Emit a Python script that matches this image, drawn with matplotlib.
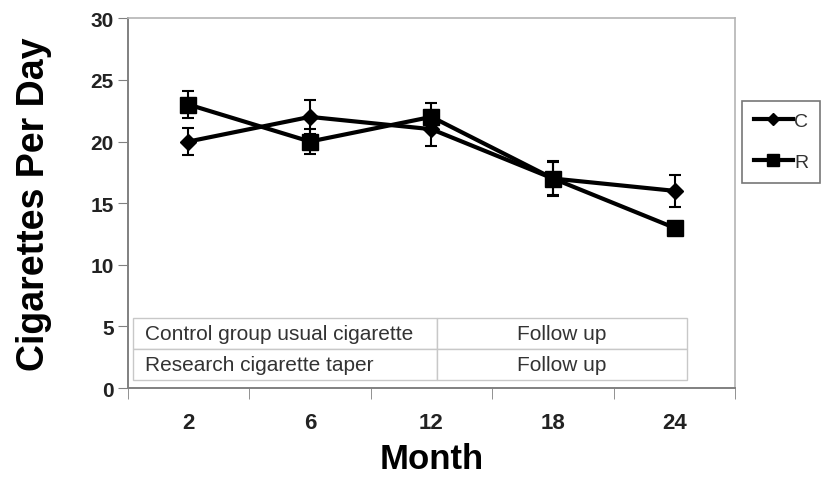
import matplotlib
matplotlib.use("Agg")
from matplotlib import pyplot as plt
from matplotlib.lines import Line2D
import numpy as np

plt.rcParams['font.family'] = ['Liberation Sans', 'DejaVu Sans']

# data
months = ["2", "6", "12", "18", "24"]
c_vals = [20, 22, 21, 17, 16]
c_err = [1.1, 1.4, 1.4, 1.4, 1.3]
r_vals = [23, 20, 22, 17, 13]
r_err = [1.1, 1.0, 1.1, 1.3, 0.0]
table_rows = [["Control group usual cigarette", "Follow up"],
              ["Research cigarette taper", "Follow up"]]

fig = plt.figure(figsize=(8.29, 4.81), dpi=100)
ax = fig.add_axes([0.154, 0.191, 0.733, 0.769])

x = np.arange(len(months))
ax.errorbar(x, c_vals, yerr=c_err, color="black", lw=3, marker="D", ms=8,
            capsize=4, elinewidth=1.5, capthick=1.5)
ax.errorbar(x, r_vals, yerr=r_err, color="black", lw=3, marker="s", ms=11,
            capsize=4, elinewidth=1.5, capthick=1.5)

ax.set_xlim(-0.5, 4.5)
ax.set_ylim(0, 30)
ax.set_yticks(range(0, 31, 5))
ax.set_xticks(x)
ax.set_xticklabels(months, fontsize=16, fontweight="bold", color="#222222")
ax.set_xticks(np.arange(-0.5, 5, 1), minor=True)
ax.tick_params(axis="x", which="major", length=0, pad=17)
ax.tick_params(axis="x", which="minor", length=8, color="#808080", direction="out")
ax.tick_params(axis="y", length=7, color="#808080", labelsize=15,
               labelcolor="#222222", pad=3)
for lab in ax.get_yticklabels():
    lab.set_fontweight("bold")
for s in ["top", "right"]:
    ax.spines[s].set_color("#b4b4b4")
    ax.spines[s].set_linewidth(1.2)
for s in ["left", "bottom"]:
    ax.spines[s].set_color("#808080")
    ax.spines[s].set_linewidth(1.4)

ax.set_ylabel("Cigarettes Per Day", fontsize=27, fontweight="bold", labelpad=28)
ax.set_xlabel("Month", fontsize=25, fontweight="bold", labelpad=7)

tb = ax.table(cellText=table_rows, cellLoc="center",
              colWidths=[0.5, 0.41], bbox=[0.008, 0.022, 0.912, 0.168])
tb.auto_set_font_size(False)
for (r, c), cell in tb.get_celld().items():
    cell.set_edgecolor("#c8c8c8")
    cell.set_linewidth(1)
    cell.get_text().set_fontsize(15)
    cell.get_text().set_color("#333333")
    if c == 0:
        cell.PAD = 0.04
        cell._loc = "left"
        cell.get_text().set_ha("left")

handles = [Line2D([], [], color="black", lw=3, marker="D", ms=6),
           Line2D([], [], color="black", lw=3, marker="s", ms=8)]
leg = fig.legend(handles, ["C", "R"], loc="upper left",
                 bbox_to_anchor=(742 / 829, 1 - 102 / 481),
                 frameon=True, fancybox=False, fontsize=14, handlelength=2.0,
                 handletextpad=0.1, borderpad=0.6, labelspacing=1.2,
                 borderaxespad=0)
leg.get_frame().set_edgecolor("#555555")
leg.get_frame().set_linewidth(1.2)
for t in leg.get_texts():
    t.set_color("#333333")

fig.savefig("out.png", dpi=100)
